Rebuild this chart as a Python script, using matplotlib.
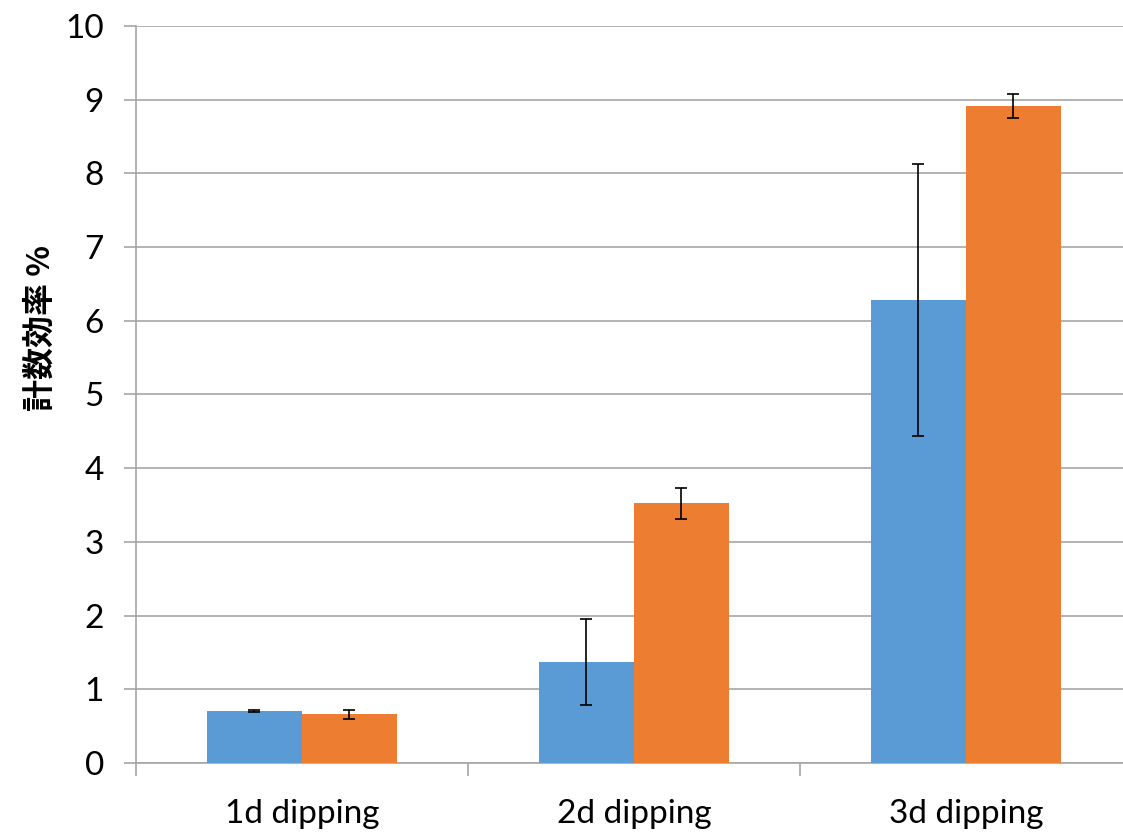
import matplotlib
matplotlib.use("Agg")
import matplotlib.pyplot as plt
import numpy as np

categories = ["1d dipping", "2d dipping", "3d dipping"]
series_a = [0.71, 1.37, 6.28]
series_a_err = [0.015, 0.58, 1.85]
series_b = [0.66, 3.52, 8.91]
series_b_err = [0.06, 0.21, 0.16]
yticks = list(range(0, 11))
ylabel = "計数効率 %"

blue = "#5b9bd5"
orange = "#ed7d31"
grid_c = "#a6a6a6"

plt.rcParams['font.family'] = ['Lato', 'DejaVu Sans']

fig = plt.figure(figsize=(11.23, 8.32), dpi=100)
ax = fig.add_axes([0.121, 0.083, 0.887, 0.886])

x = np.arange(len(categories))
w = 0.286
ax.bar(x - w / 2, series_a, w, color=blue, zorder=3, linewidth=0)
ax.bar(x + w / 2, series_b, w, color=orange, zorder=3, linewidth=0)
ax.errorbar(x - w / 2, series_a, yerr=series_a_err, fmt='none', ecolor='black',
            elinewidth=1.2, capsize=4.3, capthick=1.2, zorder=4)
ax.errorbar(x + w / 2, series_b, yerr=series_b_err, fmt='none', ecolor='black',
            elinewidth=1.2, capsize=4.3, capthick=1.2, zorder=4)

ax.set_xlim(-0.5, len(categories) - 0.5)
ax.set_ylim(0, 10)
ax.set_yticks(yticks)
ax.set_yticklabels([str(t) for t in yticks], fontsize=24)
ax.yaxis.grid(True, color=grid_c, linewidth=1.2, zorder=0)
ax.set_axisbelow(True)

ax.set_xticks(x)
ax.set_xticklabels(categories, fontsize=24)
ax.tick_params(axis='x', length=0, pad=26)
ax.set_xticks(np.arange(-0.5, len(categories), 1.0), minor=True)
ax.tick_params(axis='x', which='minor', length=9, width=1.2, color=grid_c, direction='out')
ax.tick_params(axis='y', length=9, width=1.2, color=grid_c, pad=14)

for s in ['top', 'right']:
    ax.spines[s].set_visible(False)
for s in ['left', 'bottom']:
    ax.spines[s].set_color(grid_c)
    ax.spines[s].set_linewidth(1.2)

ax.set_ylabel(ylabel, fontsize=23, fontweight='bold',
              family=['Noto Sans CJK JP', 'DejaVu Sans'])
ax.yaxis.set_label_coords(-0.080, 0.59)

fig.savefig("out.png", dpi=100)
